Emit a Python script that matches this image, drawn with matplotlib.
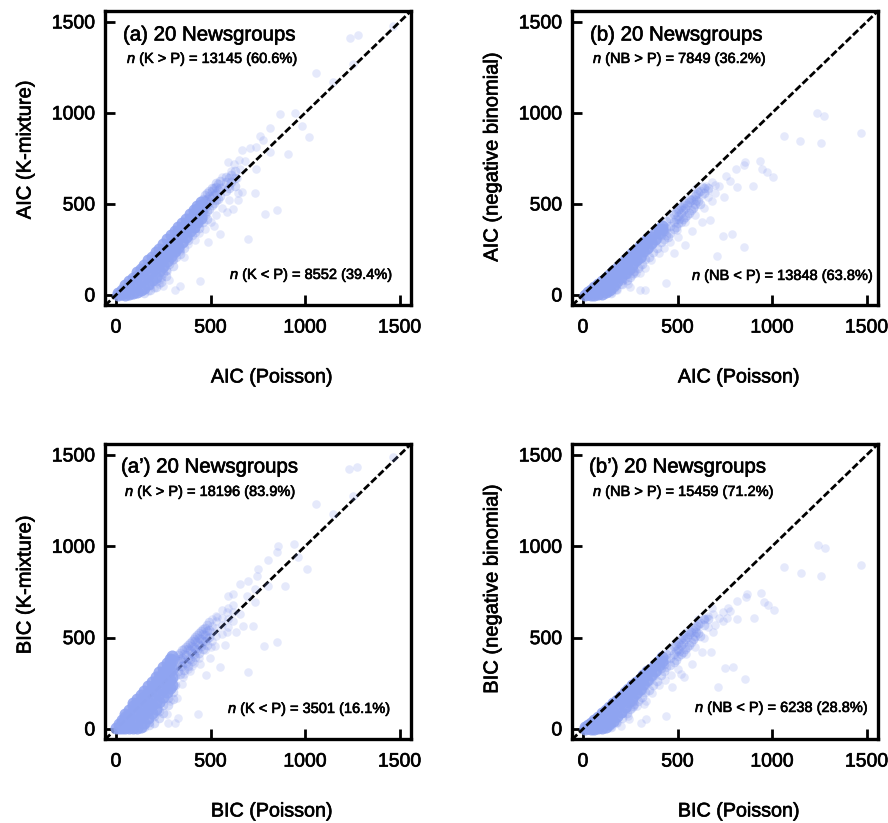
#!/usr/bin/env python3
# coding: utf-8

import matplotlib
matplotlib.use('Agg')
import matplotlib.pyplot as plt
import matplotlib.patheffects as pe

plt.rcParams['font.family'] = ['Liberation Sans', 'DejaVu Sans']
plt.rcParams['mathtext.fontset'] = 'custom'
plt.rcParams['mathtext.it'] = 'Liberation Sans:italic'
plt.rcParams['mathtext.rm'] = 'Liberation Sans'

W, H = 888, 823
TICKS = [0, 500, 1000, 1500]
BLUE = '#7d93ee'
CORE = '#8fa4f1'
HEAVY = [pe.withStroke(linewidth=0.45, foreground='black')]

# values, {x: [y, ...]} for the crowded columns
a_core = {10: [0, 12], 30: [5, 28], 50: [2, 30, 55], 70: [5, 40, 75], 90: [10, 50, 95],
          110: [15, 60, 105, 125], 130: [25, 75, 120, 145], 150: [40, 90, 135, 165],
          170: [60, 110, 155, 190], 190: [85, 130, 175, 210], 210: [100, 150, 195, 235],
          230: [130, 170, 215, 255], 250: [160, 195, 240, 280], 270: [185, 220, 260, 305],
          290: [215, 250, 285, 330], 310: [240, 275, 315, 350], 330: [265, 305, 345, 372],
          350: [290, 330, 370, 395], 370: [320, 355, 395, 420], 390: [350, 385, 420, 445],
          410: [375, 405, 445, 465], 430: [400, 440, 470, 490], 450: [425, 460, 495, 510]}
a_mid = {150: [10], 180: [30, 55], 210: [45, 75], 240: [70, 100], 265: [105, 140], 300: [160, 195],
         340: [225, 255], 380: [300, 325], 420: [345, 370], 460: [400, 440, 470, 500, 530],
         470: [440, 480, 520, 550], 480: [420, 460, 500, 530, 560], 490: [470, 510, 545, 570],
         510: [495, 540, 570, 590], 520: [505, 550, 585], 530: [520, 560, 595, 615],
         540: [530, 575, 610], 550: [545, 590, 625], 580: [570, 620, 650], 600: [590, 640],
         610: [620, 660], 250: [120, 150], 280: [170, 200], 320: [210, 240], 360: [260, 290],
         400: [330], 440: [370, 395], 630: [600, 640, 680]}
a_far = [(1466, 1476), (1237, 1414), (1279, 1427), (1254, 1271), (1060, 1222), (1147, 1171),
         (866, 993), (949, 997), (813, 920), (984, 927), (1019, 869), (760, 872), (775, 850),
         (908, 777), (816, 786), (666, 796), (710, 805), (740, 815), (648, 741), (595, 732),
         (625, 720), (680, 735), (742, 690), (666, 567), (737, 558), (790, 443), (852, 466),
         (698, 307), (442, 79), (339, 49), (251, 49), (313, 27), (551, 335), (484, 293),
         (587, 457), (643, 521), (560, 650), (600, 600), (640, 640), (655, 690), (610, 680),
         (570, 600), (560, 480), (600, 520), (530, 440), (500, 400), (470, 360), (420, 300),
         (380, 280), (340, 240), (300, 190), (270, 130), (240, 90), (200, 40), (170, 20),
         (620, 470), (645, 560), (520, 380), (440, 340), (360, 210), (280, 85), (230, 60)]

b_core = {10: [0], 25: [5, 18], 40: [0, 28], 60: [2, 25, 45], 80: [3, 35, 62], 100: [5, 40, 78],
          120: [15, 55, 95], 140: [30, 70, 112], 160: [50, 90, 130], 180: [75, 115, 150],
          200: [100, 140, 170], 220: [120, 160, 190], 240: [145, 185, 210], 260: [165, 205, 230],
          280: [190, 225, 248], 300: [210, 250, 268], 320: [240, 270, 288], 340: [260, 295, 306],
          360: [285, 320], 380: [310, 340], 400: [340, 362], 420: [360, 380]}
b_mid = {150: [10, 30], 175: [35, 55], 205: [60, 85], 235: [85, 115], 265: [120, 150],
         440: [330, 370, 405], 460: [340, 380, 425], 480: [360, 400, 445], 490: [375, 420, 455],
         500: [395, 435, 465], 510: [420, 470], 520: [400, 450, 485], 530: [415, 465, 495],
         540: [430, 480, 505], 550: [440, 495], 560: [450, 510, 525], 570: [465, 520],
         580: [480, 530], 590: [500, 545], 600: [520, 555], 610: [515, 565], 620: [500, 570],
         640: [560, 590], 660: [590], 250: [100, 140], 270: [130, 170], 290: [150, 190],
         310: [170, 210], 330: [195, 235], 350: [210, 260], 370: [235, 285], 390: [260, 310],
         410: [290, 330], 430: [310, 350], 450: [320]}
b_far = [(1238, 1000), (1277, 982), (1468, 891), (1062, 874), (1146, 845), (1256, 833), (938, 737),
         (858, 732), (853, 714), (809, 692), (947, 690), (973, 673), (1005, 646), (756, 655),
         (775, 627), (814, 594), (897, 598), (744, 540), (788, 333), (740, 326), (853, 263),
         (708, 216), (576, 351), (632, 402), (673, 412), (682, 517), (585, 485), (440, 67),
         (329, 27), (249, 45), (302, 27), (540, 274), (479, 230), (497, 357), (302, 120),
         (700, 604), (662, 576), (629, 549), (650, 600), (680, 620), (660, 540), (720, 600),
         (640, 480), (600, 590), (630, 600), (700, 560), (180, 30), (200, 60), (220, 90),
         (240, 60), (260, 110), (280, 120), (300, 160), (330, 150), (360, 190), (400, 230),
         (430, 260), (460, 290), (500, 320), (150, 15), (170, 40), (540, 400), (590, 440)]

ap_core = {0: [5], 15: [5, 25], 30: [5, 30, 50], 50: [5, 35, 65, 82], 70: [5, 40, 75, 105],
           90: [5, 45, 85, 125, 142], 110: [5, 50, 95, 140, 165], 130: [10, 60, 110, 155, 185],
           150: [30, 80, 125, 175, 210], 170: [60, 105, 150, 195, 235],
           190: [85, 130, 175, 225, 258], 210: [110, 150, 200, 250, 282],
           230: [145, 190, 235, 280, 312], 250: [175, 220, 265, 310, 338],
           270: [200, 245, 290, 335, 362], 285: [225, 270, 315, 360, 385],
           298: [240, 285, 330, 375, 400]}
ap_mid = {150: [8], 175: [20, 40], 200: [35, 70], 225: [60, 100], 250: [85, 130], 275: [130, 170],
          300: [165, 205], 310: [240, 290, 340, 390], 330: [320, 370, 405],
          340: [300, 345, 385, 415], 350: [345, 390, 430], 360: [325, 365, 410, 440],
          370: [360, 405, 450], 380: [345, 390, 435, 460], 390: [385, 430, 470],
          400: [370, 415, 455, 480], 410: [410, 450, 495], 420: [395, 440, 480, 505],
          430: [430, 475, 515], 440: [415, 460, 500, 525], 450: [455, 490, 535],
          460: [440, 480, 520, 545], 470: [480, 515, 555], 480: [460, 500, 535, 570],
          490: [505, 540, 585]}
ap_far = [(1463, 1489), (1233, 1421), (1274, 1434), (1253, 1275), (1059, 1229), (1145, 1178),
          (859, 1000), (942, 1010), (806, 927), (852, 968), (963, 940), (1009, 876), (752, 878),
          (745, 840), (699, 812), (656, 795), (894, 785), (805, 785), (736, 768), (692, 730),
          (620, 740), (593, 730), (736, 693), (656, 631), (586, 638), (725, 565), (674, 565),
          (635, 529), (586, 529), (533, 611), (851, 474), (784, 452), (699, 314), (551, 340),
          (475, 296), (577, 460), (524, 455), (433, 84), (326, 62), (275, 35), (312, 35),
          (445, 357), (392, 318), (498, 391), (268, 82), (286, 154), (321, 172), (355, 282),
          (348, 247), (401, 346), (510, 480), (510, 530), (510, 565), (510, 600), (530, 510),
          (530, 550), (530, 590), (530, 620), (560, 520), (560, 570), (560, 610), (560, 650),
          (590, 560), (590, 600), (590, 660), (620, 590), (620, 640), (620, 680), (440, 390),
          (470, 430), (500, 450), (360, 300), (380, 330), (410, 360)]

bp_core = {10: [0, 8], 25: [5, 20], 40: [0, 30], 60: [2, 28, 50], 80: [3, 38, 68], 100: [5, 45, 86],
           120: [12, 60, 104], 140: [25, 75, 122], 160: [45, 95, 140], 180: [70, 120, 160],
           200: [95, 145, 180], 220: [120, 165, 200], 240: [145, 190, 220], 260: [170, 210, 240],
           280: [195, 232, 258], 300: [220, 255, 276], 320: [245, 280, 296], 340: [270, 305, 316],
           360: [295, 330], 380: [320, 350], 400: [350, 372], 420: [370, 392]}
bp_mid = {150: [12, 32], 175: [38, 58], 205: [62, 88], 235: [88, 118], 265: [125, 155],
          440: [340, 385, 412], 460: [350, 390, 432], 480: [365, 410, 452], 490: [380, 425, 462],
          500: [400, 440, 472], 510: [425, 478], 520: [410, 460, 492], 530: [420, 470, 502],
          540: [440, 490, 512], 550: [450, 505], 560: [460, 520, 535], 570: [475, 530],
          580: [490, 540], 590: [510, 555], 600: [530, 565], 610: [525, 575], 620: [510, 580],
          640: [570, 600], 660: [600], 250: [110, 145], 270: [135, 175], 290: [155, 195],
          310: [175, 215], 330: [200, 240], 350: [215, 265], 370: [240, 290], 390: [265, 315],
          410: [295, 335], 430: [315, 355]}
bp_far = [(1242, 1008), (1282, 988), (1471, 898), (1065, 884), (1153, 852), (1260, 840), (942, 746),
          (865, 739), (862, 724), (814, 699), (955, 693), (980, 679), (1012, 653), (765, 662),
          (779, 648), (817, 602), (902, 605), (791, 340), (752, 333), (858, 273), (715, 227),
          (574, 358), (632, 419), (676, 424), (685, 529), (588, 492), (438, 71), (332, 53),
          (244, 53), (306, 35), (200, 16), (535, 282), (473, 232), (519, 302), (323, 137),
          (650, 610), (690, 630), (660, 560), (720, 610), (640, 500), (610, 600), (640, 600),
          (700, 570), (740, 640), (740, 590), (760, 610), (180, 35), (220, 95), (240, 70), (260, 115),
          (285, 125), (300, 165), (335, 155), (365, 195), (400, 240), (435, 270), (465, 295),
          (505, 330), (150, 18), (170, 42), (545, 410), (590, 450), (680, 660), (660, 620)]

# spine box in pixels (left, top, right, bottom), text positions in pixels
panels = [
    dict(core=a_core, mid=a_mid, far=a_far, box=(105, 11, 411, 305),
         title='(a) 20 Newsgroups', title_at=(123, 35),
         upper='$\\mathit{n}$ (K > P) = 13145 (60.6%)', upper_at=(127, 59),
         lower='$\\mathit{n}$ (K < P) = 8552 (39.4%)', lower_at=(230, 275),
         xlabel='AIC (Poisson)', ylabel='AIC (K-mixture)', ylabel_y=150),
    dict(core=b_core, mid=b_mid, far=b_far, box=(572, 11, 878, 305),
         title='(b) 20 Newsgroups', title_at=(590, 35),
         upper='$\\mathit{n}$ (NB > P) = 7849 (36.2%)', upper_at=(593, 59),
         lower='$\\mathit{n}$ (NB < P) = 13848 (63.8%)', lower_at=(692, 276),
         xlabel='AIC (Poisson)', ylabel='AIC (negative binomial)', ylabel_y=157),
    dict(core=ap_core, mid=ap_mid, far=ap_far, box=(105, 444, 411, 739),
         title='(a’) 20 Newsgroups', title_at=(121, 467),
         upper='$\\mathit{n}$ (K > P) = 18196 (83.9%)', upper_at=(125, 492),
         lower='$\\mathit{n}$ (K < P) = 3501 (16.1%)', lower_at=(228, 709),
         xlabel='BIC (Poisson)', ylabel='BIC (K-mixture)', ylabel_y=585, line_under=True),
    dict(core=bp_core, mid=bp_mid, far=bp_far, box=(572, 444, 878, 739),
         title='(b’) 20 Newsgroups', title_at=(589, 467),
         upper='$\\mathit{n}$ (NB > P) = 15459 (71.2%)', upper_at=(593, 492),
         lower='$\\mathit{n}$ (NB < P) = 6238 (28.8%)', lower_at=(695, 708),
         xlabel='BIC (Poisson)', ylabel='BIC (negative binomial)', ylabel_y=589),
]


def flatten(columns):
    xs, ys = [], []
    for x, values in columns.items():
        for y in values:
            xs.append(x)
            ys.append(y)
    return xs, ys


fig = plt.figure(figsize=(W / 100, H / 100), dpi=100)

for p in panels:
    left, top, right, bottom = p['box']
    ax = fig.add_axes([left / W, 1 - bottom / H, (right - left) / W, (bottom - top) / H])
    ax.set_xlim(-58, 1560)
    ax.set_ylim(-55, 1560)

    far_x, far_y = zip(*p['far'])
    ax.scatter(far_x, far_y, s=38, color=BLUE, alpha=0.2, linewidths=0, zorder=3)
    mx, my = flatten(p['mid'])
    ax.scatter(mx, my, s=48, color=BLUE, alpha=0.3, linewidths=0, zorder=3)
    cx, cy = flatten(p['core'])
    ax.scatter(cx, cy, s=75, color=CORE, alpha=0.85, linewidths=0, zorder=3)

    ax.plot([-58, 1560], [-58, 1560], color='black', lw=2, ls=(0, (2.6, 1)),
            zorder=2.5 if p.get('line_under') else 4)

    ax.set_xticks(TICKS)
    ax.set_yticks(TICKS)
    ax.tick_params(axis='x', direction='in', length=7, width=2, labelsize=14, pad=10.5)
    ax.tick_params(axis='y', direction='in', length=7, width=2, labelsize=14, pad=7)
    for lab in ax.get_xticklabels() + ax.get_yticklabels():
        lab.set_path_effects(HEAVY)
    for s in ax.spines.values():
        s.set_linewidth(2.4)

    x0, y0 = p['title_at']
    fig.text(x0 / W, 1 - y0 / H, p['title'], fontsize=14.7, va='center', ha='left', path_effects=HEAVY)
    x0, y0 = p['upper_at']
    fig.text(x0 / W, 1 - y0 / H, p['upper'], fontsize=10.5, va='center', ha='left', path_effects=HEAVY)
    x0, y0 = p['lower_at']
    fig.text(x0 / W, 1 - y0 / H, p['lower'], fontsize=10.5, va='center', ha='left', path_effects=HEAVY)

    fig.text((left + 167) / W, 1 - (bottom + 72) / H, p['xlabel'], fontsize=14.2, ha='center',
             va='center', path_effects=HEAVY)
    fig.text((left - 80) / W, 1 - p['ylabel_y'] / H, p['ylabel'], fontsize=14.5, rotation=90,
             ha='center', va='center', path_effects=HEAVY)

fig.savefig('out.png', dpi=100)
